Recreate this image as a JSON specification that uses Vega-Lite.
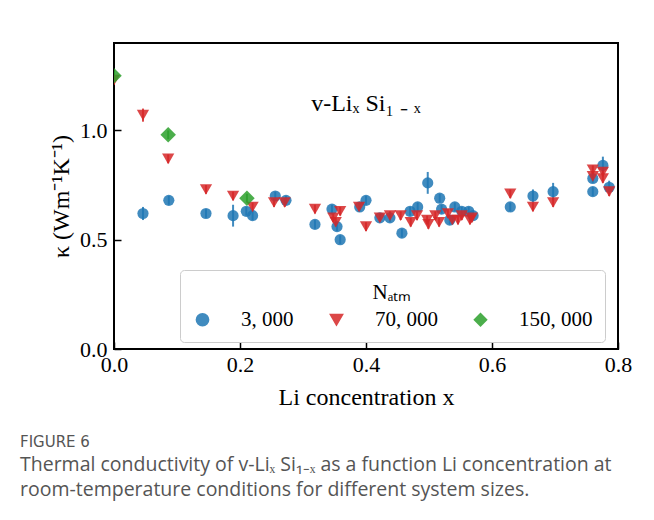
{
  "$schema": "https://vega.github.io/schema/vega-lite/v6.json",
  "width": 504,
  "height": 306,
  "autosize": "none",
  "padding": {"left": 114, "top": 43, "right": 36, "bottom": 171},
  "background": "white",
  "title": {
    "text": "FIGURE 6",
    "subtitle": ["Thermal conductivity of v-Liₓ Si₁₋ₓ as a function Li concentration at", "room-temperature conditions for different system sizes."],
    "orient": "bottom",
    "anchor": "start",
    "frame": "group",
    "dx": -94,
    "offset": 26,
    "font": "DejaVu Sans",
    "fontSize": 15,
    "fontWeight": "normal",
    "color": "#555555",
    "subtitleFont": "Open Sans",
    "subtitleFontSize": 19.5,
    "subtitleColor": "#555555",
    "subtitleLineHeight": 25,
    "subtitlePadding": 6
  },
  "data": {
    "values": [
      {"x": 0.046, "k": 0.62, "e": 0.03, "N": "3, 000"},
      {"x": 0.087, "k": 0.68, "e": 0.02, "N": "3, 000"},
      {"x": 0.146, "k": 0.62, "e": 0.02, "N": "3, 000"},
      {"x": 0.189, "k": 0.61, "e": 0.05, "N": "3, 000"},
      {"x": 0.210, "k": 0.63, "e": 0.02, "N": "3, 000"},
      {"x": 0.220, "k": 0.61, "e": 0.02, "N": "3, 000"},
      {"x": 0.256, "k": 0.70, "e": 0.02, "N": "3, 000"},
      {"x": 0.273, "k": 0.68, "e": 0.02, "N": "3, 000"},
      {"x": 0.319, "k": 0.57, "e": 0.02, "N": "3, 000"},
      {"x": 0.346, "k": 0.64, "e": 0.02, "N": "3, 000"},
      {"x": 0.354, "k": 0.56, "e": 0.02, "N": "3, 000"},
      {"x": 0.359, "k": 0.50, "e": 0.02, "N": "3, 000"},
      {"x": 0.390, "k": 0.65, "e": 0.02, "N": "3, 000"},
      {"x": 0.400, "k": 0.68, "e": 0.02, "N": "3, 000"},
      {"x": 0.422, "k": 0.60, "e": 0.02, "N": "3, 000"},
      {"x": 0.438, "k": 0.60, "e": 0.02, "N": "3, 000"},
      {"x": 0.457, "k": 0.53, "e": 0.02, "N": "3, 000"},
      {"x": 0.470, "k": 0.63, "e": 0.02, "N": "3, 000"},
      {"x": 0.482, "k": 0.65, "e": 0.02, "N": "3, 000"},
      {"x": 0.498, "k": 0.76, "e": 0.05, "N": "3, 000"},
      {"x": 0.517, "k": 0.69, "e": 0.02, "N": "3, 000"},
      {"x": 0.520, "k": 0.64, "e": 0.02, "N": "3, 000"},
      {"x": 0.533, "k": 0.59, "e": 0.02, "N": "3, 000"},
      {"x": 0.541, "k": 0.65, "e": 0.02, "N": "3, 000"},
      {"x": 0.552, "k": 0.63, "e": 0.02, "N": "3, 000"},
      {"x": 0.563, "k": 0.63, "e": 0.02, "N": "3, 000"},
      {"x": 0.570, "k": 0.61, "e": 0.02, "N": "3, 000"},
      {"x": 0.629, "k": 0.65, "e": 0.02, "N": "3, 000"},
      {"x": 0.665, "k": 0.70, "e": 0.03, "N": "3, 000"},
      {"x": 0.697, "k": 0.72, "e": 0.04, "N": "3, 000"},
      {"x": 0.760, "k": 0.72, "e": 0.02, "N": "3, 000"},
      {"x": 0.760, "k": 0.78, "e": 0.02, "N": "3, 000"},
      {"x": 0.776, "k": 0.84, "e": 0.04, "N": "3, 000"},
      {"x": 0.786, "k": 0.74, "e": 0.03, "N": "3, 000"},
      {"x": 0.000, "k": 1.23, "e": 0.02, "N": "70, 000"},
      {"x": 0.046, "k": 1.07, "e": 0.03, "N": "70, 000"},
      {"x": 0.086, "k": 0.87, "e": 0.02, "N": "70, 000"},
      {"x": 0.146, "k": 0.73, "e": 0.02, "N": "70, 000"},
      {"x": 0.189, "k": 0.70, "e": 0.02, "N": "70, 000"},
      {"x": 0.220, "k": 0.65, "e": 0.02, "N": "70, 000"},
      {"x": 0.254, "k": 0.67, "e": 0.02, "N": "70, 000"},
      {"x": 0.271, "k": 0.67, "e": 0.02, "N": "70, 000"},
      {"x": 0.319, "k": 0.64, "e": 0.02, "N": "70, 000"},
      {"x": 0.348, "k": 0.60, "e": 0.02, "N": "70, 000"},
      {"x": 0.352, "k": 0.58, "e": 0.02, "N": "70, 000"},
      {"x": 0.359, "k": 0.63, "e": 0.02, "N": "70, 000"},
      {"x": 0.389, "k": 0.65, "e": 0.02, "N": "70, 000"},
      {"x": 0.400, "k": 0.56, "e": 0.02, "N": "70, 000"},
      {"x": 0.422, "k": 0.60, "e": 0.02, "N": "70, 000"},
      {"x": 0.438, "k": 0.61, "e": 0.02, "N": "70, 000"},
      {"x": 0.455, "k": 0.61, "e": 0.02, "N": "70, 000"},
      {"x": 0.471, "k": 0.58, "e": 0.02, "N": "70, 000"},
      {"x": 0.481, "k": 0.61, "e": 0.02, "N": "70, 000"},
      {"x": 0.497, "k": 0.59, "e": 0.02, "N": "70, 000"},
      {"x": 0.499, "k": 0.57, "e": 0.02, "N": "70, 000"},
      {"x": 0.510, "k": 0.61, "e": 0.02, "N": "70, 000"},
      {"x": 0.516, "k": 0.58, "e": 0.02, "N": "70, 000"},
      {"x": 0.530, "k": 0.62, "e": 0.02, "N": "70, 000"},
      {"x": 0.537, "k": 0.59, "e": 0.02, "N": "70, 000"},
      {"x": 0.546, "k": 0.59, "e": 0.02, "N": "70, 000"},
      {"x": 0.552, "k": 0.61, "e": 0.02, "N": "70, 000"},
      {"x": 0.565, "k": 0.59, "e": 0.02, "N": "70, 000"},
      {"x": 0.568, "k": 0.60, "e": 0.02, "N": "70, 000"},
      {"x": 0.629, "k": 0.71, "e": 0.02, "N": "70, 000"},
      {"x": 0.665, "k": 0.65, "e": 0.02, "N": "70, 000"},
      {"x": 0.697, "k": 0.67, "e": 0.02, "N": "70, 000"},
      {"x": 0.760, "k": 0.82, "e": 0.02, "N": "70, 000"},
      {"x": 0.760, "k": 0.79, "e": 0.02, "N": "70, 000"},
      {"x": 0.776, "k": 0.81, "e": 0.02, "N": "70, 000"},
      {"x": 0.776, "k": 0.78, "e": 0.02, "N": "70, 000"},
      {"x": 0.786, "k": 0.72, "e": 0.02, "N": "70, 000"},
      {"x": 0.000, "k": 1.25, "e": 0.02, "N": "150, 000"},
      {"x": 0.086, "k": 0.98, "e": 0.02, "N": "150, 000"},
      {"x": 0.211, "k": 0.69, "e": 0.02, "N": "150, 000"}
    ]
  },
  "layer": [
    {
      "mark": {"type": "errorbar", "clip": true, "thickness": 2, "opacity": 0.85},
      "encoding": {
        "x": {
          "field": "x",
          "type": "quantitative",
          "title": "Li concentration x",
          "scale": {"domain": [0, 0.8], "nice": false, "zero": false},
          "axis": {"values": [0, 0.2, 0.4, 0.6, 0.8], "format": ".1f"}
        },
        "y": {
          "field": "k",
          "type": "quantitative",
          "title": "κ (Wm⁻¹K⁻¹)",
          "scale": {"domain": [0, 1.4], "nice": false, "zero": false},
          "axis": {"values": [0, 0.5, 1.0], "format": ".1f"}
        },
        "yError": {"field": "e"},
        "color": {
          "field": "N",
          "type": "nominal",
          "title": "Nₐₜₘ",
          "scale": {"domain": ["3, 000", "70, 000", "150, 000"], "range": ["#1f77b4", "#d62728", "#2ca02c"]}
        }
      }
    },
    {
      "mark": {"type": "point", "filled": true, "opacity": 0.85, "clip": true},
      "encoding": {
        "x": {"field": "x", "type": "quantitative"},
        "y": {"field": "k", "type": "quantitative"},
        "color": {"field": "N", "type": "nominal", "title": "Nₐₜₘ"},
        "shape": {
          "field": "N",
          "type": "nominal",
          "title": "Nₐₜₘ",
          "scale": {"domain": ["3, 000", "70, 000", "150, 000"], "range": ["circle", "triangle-down", "diamond"]}
        },
        "size": {
          "condition": [
            {"test": "datum.N === '150, 000'", "value": 240},
            {"test": "datum.N === '70, 000'", "value": 150}
          ],
          "value": 125
        }
      }
    },
    {
      "data": {"values": [{"label": "v-Liₓ Si₁ ₋ ₓ"}]},
      "mark": {"type": "text", "font": "Liberation Serif", "fontSize": 24, "fontWeight": "normal", "align": "center", "baseline": "middle", "fill": "black"},
      "encoding": {
        "x": {"datum": 0.40, "type": "quantitative"},
        "y": {"datum": 1.12, "type": "quantitative"},
        "text": {"field": "label", "type": "nominal"}
      }
    }
  ],
  "config": {
    "view": {"stroke": "black", "strokeWidth": 2},
    "font": "Liberation Serif",
    "axis": {
      "domain": false,
      "grid": false,
      "tickColor": "black",
      "tickWidth": 1.5,
      "tickSize": -7,
      "labelFlush": false,
      "labelFont": "Liberation Serif",
      "labelFontSize": 22,
      "labelColor": "black",
      "titleFont": "Liberation Serif",
      "titleFontSize": 24,
      "titleFontWeight": "normal",
      "titleColor": "black"
    },
    "axisX": {"labelPadding": 12, "titlePadding": 10},
    "axisY": {"labelPadding": 14, "titlePadding": 6},
    "legend": {
      "orient": "none",
      "legendX": 66,
      "legendY": 227,
      "direction": "horizontal",
      "columns": 3,
      "titleAnchor": "middle",
      "titleFont": "Liberation Serif",
      "titleFontSize": 21,
      "titleFontWeight": "normal",
      "titleColor": "black",
      "labelFont": "Liberation Serif",
      "labelFontSize": 21,
      "labelColor": "black",
      "labelOffset": 28,
      "columnPadding": 32,
      "symbolSize": 150,
      "symbolOpacity": 0.85,
      "padding": 12,
      "strokeColor": "#cccccc",
      "fillColor": "white",
      "cornerRadius": 4,
      "titlePadding": 6
    }
  }
}
